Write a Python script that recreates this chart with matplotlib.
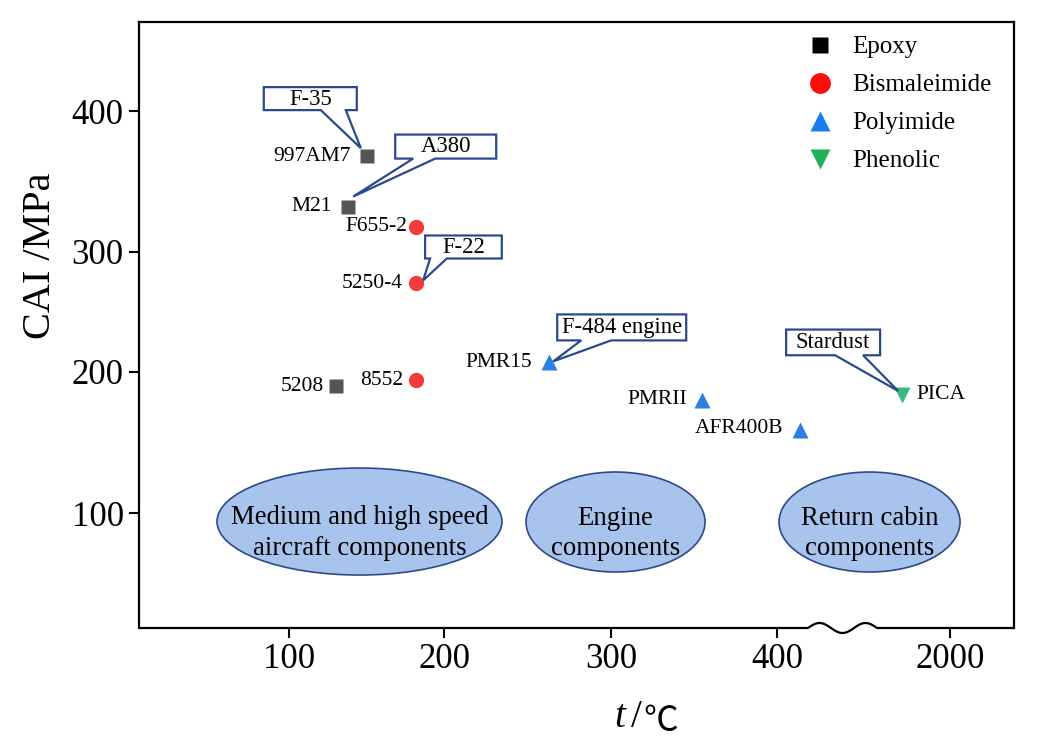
import numpy as np
import matplotlib
matplotlib.use('Agg')
import matplotlib.pyplot as plt
from matplotlib.lines import Line2D
from matplotlib.patches import Ellipse, Polygon
import matplotlib.transforms as mtransforms

FAM = ['Liberation Serif', 'DejaVu Serif', 'DejaVu Sans', 'Noto Sans CJK SC']
plt.rcParams['font.family'] = FAM

# ---------------- data ----------------
materials = ['997AM7', 'M21', 'F655-2', '5250-4', '8552', '5208',
             'PMR15', 'PMRII', 'AFR400B', 'PICA']
resin = ['Epoxy', 'Epoxy', 'Bismaleimide', 'Bismaleimide', 'Bismaleimide', 'Epoxy',
         'Polyimide', 'Polyimide', 'Polyimide', 'Phenolic']
temperature = [150, 138, 182, 182, 182, 130, 263, 355, 414, 1670]   # t / degC
cai = [368, 332, 318, 274, 194, 190, 208, 180, 159, 184]            # CAI / MPa

resin_types = ['Epoxy', 'Bismaleimide', 'Polyimide', 'Phenolic']
callout_text = ['F-35', 'A380', 'F-22', 'F-484 engine', 'Stardust']
callout_target = ['997AM7', 'M21', '5250-4', 'PMR15', 'PICA']
regions = ['Medium and high speed\naircraft components',
           'Engine\ncomponents',
           'Return cabin\ncomponents']
x_ticks = [100, 200, 300, 400, 2000]
y_ticks = [100, 200, 300, 400]

# ---------------- broken / piecewise axis scales ----------------
XK = [0, 100, 200, 300, 400, 420, 1500, 2000, 2600]
XP = [134, 289, 444, 611, 777, 810, 877, 950, 1037.6]
YK = [0, 100, 200, 300, 400, 600]
YP = [94, 235, 376, 496, 637, 919]

def xf(v): return np.interp(v, XK, XP)
def xi(p): return np.interp(p, XP, XK)
def yf(v): return np.interp(v, YK, YP)
def yi(p): return np.interp(p, YP, YK)

# ---------------- styles ----------------
mstyle = {'Epoxy': dict(marker='s', color='#555555', ms=10),
          'Bismaleimide': dict(marker='o', color='#f23c3c', ms=11),
          'Polyimide': dict(marker='^', color='#2a7fe0', ms=12),
          'Phenolic': dict(marker='v', color='#3cb878', ms=12)}
lstyle = {'Epoxy': dict(marker='s', color='#000000', ms=11),
          'Bismaleimide': dict(marker='o', color='#ff0d0d', ms=15),
          'Polyimide': dict(marker='^', color='#1a7af0', ms=15),
          'Phenolic': dict(marker='v', color='#1fb05a', ms=15)}
label_off = {'997AM7': (-16, 0), 'M21': (-16, 0), 'F655-2': (-9, 0), '5250-4': (-13, 0),
             '8552': (-13, 0), '5208': (-12, 0), 'PMR15': (-17, 0), 'PMRII': (-15, 1),
             'AFR400B': (-17, 1), 'PICA': (15, 0)}
# callout geometry in pixels relative to target: (left, right, bottom, top), wedge base x, tip
callout_geom = [((-102.7, -9.7, 46, 69), (-45.7, -20.7), (-5.7, 8)),
                ((47.3, 148.3, 48.3, 72.3), (65.3, 87.3), (5.3, 10.3)),
                ((9, 85.7, 24.7, 47.7), (14, 30.7), (7, 2.7)),
                ((8, 137, 22, 48), (32, 62), (4, 1)),
                ((-115.7, -21.7, 39.3, 65), (-66.7, -38.7), (-3.7, 3.6))]
ell_geom = [((0.252, 0.1757), 0.3257, 0.1766),
            ((0.5446, 0.1749), 0.2046, 0.165),
            ((0.8349, 0.1749), 0.2069, 0.165)]
CALL_C = '#2a4a8e'

W, H = 1039, 748
fig = plt.figure(figsize=(W / 100, H / 100), dpi=100)
ax = fig.add_axes([139 / W, 120 / H, 875 / W, 606 / H])
ax.set_xscale('function', functions=(xf, xi))
ax.set_yscale('function', functions=(yf, yi))
ax.set_xlim(float(xi(139)), float(xi(1014)))
ax.set_ylim(float(yi(120)), float(yi(726)))

# points
for name, r, t, c in zip(materials, resin, temperature, cai):
    st = mstyle[r]
    ax.plot([t], [c], linestyle='none', marker=st['marker'], ms=st['ms'],
            mfc=st['color'], mec='none', zorder=5)
    dx, dy = label_off[name]
    ax.annotate(name, xy=(t, c), xytext=(dx * 0.72, dy * 0.72), textcoords='offset points',
                ha='right' if dx < 0 else 'left', va='center', fontsize=15.5, zorder=6)

# callouts
for txt, tgt, (box, wb, tip) in zip(callout_text, callout_target, callout_geom):
    i = materials.index(tgt)
    x, y = temperature[i], cai[i]
    L, R, B, T = box
    verts = np.array([(L, T), (R, T), (R, B), (wb[1], B), tip, (wb[0], B), (L, B)]) / 100.0
    tr = fig.dpi_scale_trans + mtransforms.ScaledTranslation(x, y, ax.transData)
    ax.add_patch(Polygon(verts, closed=True, transform=tr, fc='white', ec=CALL_C,
                         lw=1.6, zorder=7, joinstyle='miter'))
    ax.annotate(txt, xy=(x, y), xytext=((L + R) / 2 * 0.72, (B + T) / 2 * 0.72 - 0.3),
                textcoords='offset points', ha='center', va='center', fontsize=16.3, zorder=8)

# application regions
for txt, (cxy, w, h) in zip(regions, ell_geom):
    ax.add_patch(Ellipse(cxy, w, h, transform=ax.transAxes, fc='#a9c4ec', ec='#2c4a88',
                         lw=1.2, zorder=2))
    ax.text(cxy[0], cxy[1] - 0.019, txt, transform=ax.transAxes, ha='center', va='center',
            fontsize=19.3, linespacing=1.3, zorder=3)

# legend
handles = [Line2D([], [], linestyle='none', marker=lstyle[r]['marker'], ms=lstyle[r]['ms'],
                  mfc=lstyle[r]['color'], mec='none') for r in resin_types]
ax.legend(handles, resin_types, loc='upper left', bbox_to_anchor=(0.748, 1.0),
          frameon=False, fontsize=18, handlelength=1.0, handletextpad=0.8,
          labelspacing=0.62, borderaxespad=0.15)

# axes / ticks
ax.set_xticks(x_ticks)
ax.set_xticklabels([str(v) for v in x_ticks])
ax.set_yticks(y_ticks)
ax.set_yticklabels([str(v) for v in y_ticks])
ax.minorticks_off()
ax.tick_params(direction='out', length=7, width=1.5, labelsize=25, pad=4,
               top=False, right=False)
for s in ['left', 'right', 'top']:
    ax.spines[s].set_linewidth(1.6)
ax.spines['bottom'].set_visible(False)

# bottom spine with break squiggle
b0, b1 = (808 - 139) / 875, (877 - 139) / 875
amp = 5 / 606
tt = np.linspace(0, 1, 80)
bx = np.concatenate([[0.0], b0 + (b1 - b0) * tt, [1.0]])
by = np.concatenate([[0.0], amp * np.sin(3 * np.pi * tt), [0.0]])
ax.plot(bx, by, transform=ax.transAxes, color='black', lw=1.6, clip_on=False,
        solid_capstyle='butt', zorder=10)

ax.set_ylabel('CAI /MPa', fontsize=29, va='center')
ax.yaxis.set_label_coords(-0.113, 0.614)

# x label: italic t followed by "/" and the degree-Celsius sign
xl_y = -0.1485
ax.text((625 - 139) / 875, xl_y, 't', transform=ax.transAxes, ha='right', va='center',
        fontsize=28, style='italic')
ax.text((631 - 139) / 875, xl_y, '/', transform=ax.transAxes, ha='left', va='center',
        fontsize=28)
ax.text((643 - 139) / 875, xl_y - 0.006, '℃', transform=ax.transAxes, ha='left', va='center',
        fontsize=25, family=['Noto Sans CJK SC', 'DejaVu Sans'])

fig.savefig('out.png', dpi=100)
